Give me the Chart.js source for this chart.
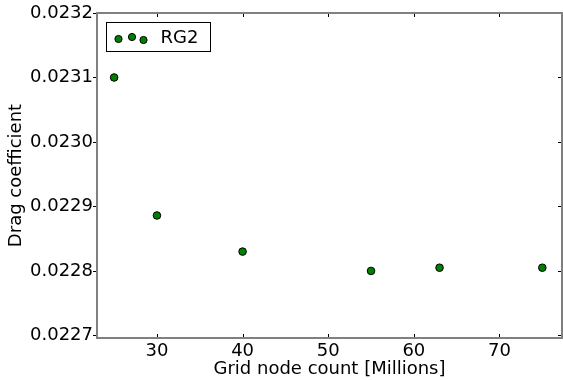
<!DOCTYPE html>
<html>
<head>
<meta charset="utf-8">
<script src="https://cdn.jsdelivr.net/npm/chart.js@4/dist/chart.umd.min.js"></script>
<style>
  html, body { margin: 0; padding: 0; background: #fff; }
</style>
</head>
<body>
<canvas id="drag-chart" width="563" height="380"></canvas>
<script>
// data
const seriesName = 'RG2';
const gridNodes = [25, 30, 40, 55, 63, 75];
const dragCoef = [0.02310, 0.022886, 0.02283, 0.02280, 0.022805, 0.022805];
const xTicks = [30, 40, 50, 60, 70];
const yTicks = [0.0227, 0.0228, 0.0229, 0.0230, 0.0231, 0.0232];

const FONT = 'DejaVu Sans';
const FRAME = '#808080';

/* --------- frame, matplotlib-like ticks and the legend box --------- */
const framePlugin = {
  id: 'frame',
  afterDatasetsDraw(chart) {
    const { ctx, chartArea: a, scales: { x, y } } = chart;
    ctx.save();
    ctx.strokeStyle = '#000';
    ctx.lineWidth = 1;
    ctx.beginPath();
    xTicks.forEach(v => {
      const px = Math.round(x.getPixelForValue(v)) + 0.5;
      ctx.moveTo(px, a.bottom); ctx.lineTo(px, a.bottom - 4);
      ctx.moveTo(px, a.top); ctx.lineTo(px, a.top + 4);
    });
    yTicks.forEach(v => {
      const py = Math.round(y.getPixelForValue(v)) + 0.5;
      ctx.moveTo(a.left - 4, py); ctx.lineTo(a.left, py);
      ctx.moveTo(a.right, py); ctx.lineTo(a.right - 4, py);
    });
    ctx.stroke();

    ctx.strokeStyle = FRAME;
    ctx.lineWidth = 2;
    ctx.strokeRect(a.left, a.top, a.right - a.left, a.bottom - a.top);

    // legend
    const lx = a.left + 9.5, ly = a.top + 9.5;
    ctx.fillStyle = '#fff';
    ctx.fillRect(lx, ly, 104, 29);
    ctx.strokeStyle = '#000';
    ctx.lineWidth = 1;
    ctx.strokeRect(lx, ly, 104, 29);
    [[12, 16.5], [25.5, 14.5], [37, 17.5]].forEach(([dx, dy]) => {
      ctx.beginPath();
      ctx.arc(lx + dx, ly + dy, 3.6, 0, Math.PI * 2);
      ctx.fillStyle = '#008000';
      ctx.fill();
      ctx.strokeStyle = '#000';
      ctx.stroke();
    });
    ctx.fillStyle = '#000';
    ctx.font = `18px "${FONT}"`;
    ctx.textBaseline = 'middle';
    ctx.fillText(seriesName, lx + 54, ly + 16);
    ctx.restore();
  }
};

const ctx = document.getElementById('drag-chart').getContext('2d');
new Chart(ctx, {
  type: 'scatter',
  data: {
    datasets: [{
      label: seriesName,
      data: gridNodes.map((v, i) => ({ x: v, y: dragCoef[i] })),
      backgroundColor: '#008000',
      borderColor: '#000',
      borderWidth: 1,
      pointRadius: 3.8,
      pointHoverRadius: 3.8
    }]
  },
  options: {
    responsive: false,
    animation: false,
    devicePixelRatio: 1,
    layout: { autoPadding: false, padding: { top: 13, right: 1, left: 0, bottom: 0 } },
    plugins: {
      legend: { display: false },
      tooltip: { enabled: false }
    },
    scales: {
      x: {
        type: 'linear',
        min: 23,
        max: 77.3,
        grid: { display: false, drawTicks: false },
        border: { display: false },
        afterBuildTicks: s => { s.ticks = xTicks.map(v => ({ value: v })); },
        afterFit: s => { s.height = 42; s.paddingLeft = 0; s.paddingRight = 0; },
        ticks: {
          padding: 3,
          color: '#000',
          font: { family: FONT, size: 18 }
        },
        title: {
          display: true,
          text: 'Grid node count [Millions]',
          color: '#000',
          font: { family: FONT, size: 18 },
          padding: { top: 0, bottom: 0 }
        }
      },
      y: {
        min: 0.022696,
        max: 0.0232,
        grid: { display: false, drawTicks: false },
        border: { display: false },
        afterBuildTicks: s => { s.ticks = yTicks.map(v => ({ value: v })); },
        afterFit: s => { s.width = 97; s.paddingTop = 0; s.paddingBottom = 0; },
        ticks: {
          padding: 4,
          color: '#000',
          font: { family: FONT, size: 18 },
          callback: v => v.toFixed(4)
        },
        title: {
          display: true,
          text: 'Drag coefficient',
          color: '#000',
          font: { family: FONT, size: 18 },
          padding: { top: 6, bottom: 0 }
        }
      }
    }
  },
  plugins: [framePlugin]
});
</script>
</body>
</html>
